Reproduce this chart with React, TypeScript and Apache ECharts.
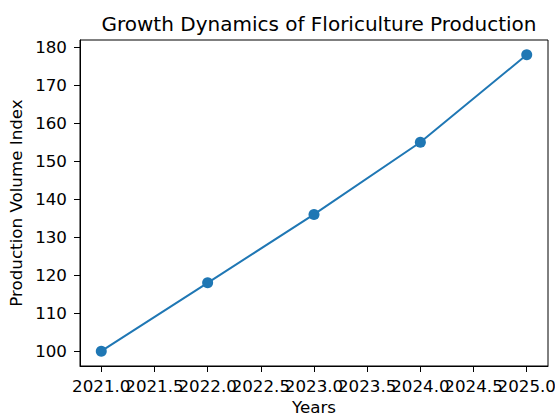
import React, { useEffect, useRef } from "react";
import * as echarts from "echarts";

const years = [2021, 2022, 2023, 2024, 2025];
const values = [100, 118, 136, 155, 178];
const xTicksWhole = [2021.0, 2022.0, 2023.0, 2024.0, 2025.0];
const xTicksHalf = [2021.5, 2022.5, 2023.5, 2024.5];
const yTicks = [100, 110, 120, 130, 140, 150, 160, 170, 180];

export default function App() {
  const ref = useRef<HTMLDivElement>(null);
  useEffect(() => {
    const chart = echarts.init(ref.current!, null, { renderer: "svg" });
    const font = "DejaVu Sans";
    const xLabel = (vals: number[]) => ({
      fontFamily: font, fontSize: 16.7, color: "#000", margin: 11,
      customValues: vals,
      hideOverlap: false,
      showMinLabel: true,
      showMaxLabel: true,
      formatter: (v: number) => v.toFixed(1),
    });
    chart.setOption({
      animation: false,
      backgroundColor: "#fff",
      title: {
        text: "Growth Dynamics of Floriculture Production",
        left: 314,
        top: 9,
        textAlign: "center",
        textStyle: { fontFamily: font, fontSize: 20, fontWeight: "normal", color: "#000" },
      },
      grid: {
        left: 80, right: 7, top: 40, bottom: 50,
        outerBoundsMode: "none",
        containLabel: false,
        show: true, borderColor: "#000", borderWidth: 1, backgroundColor: "transparent",
      },
      xAxis: [
        {
          type: "value",
          position: "bottom",
          offset: 0,
          min: 2020.8,
          max: 2025.2,
          name: "Years",
          nameLocation: "middle",
          nameGap: 34,
          nameTextStyle: { fontFamily: font, fontSize: 16.7, color: "#000", lineHeight: 14 },
          axisLine: { show: true, onZero: false, lineStyle: { color: "#000", width: 1 } },
          axisTick: { show: true, length: 6, lineStyle: { color: "#000" }, customValues: xTicksWhole },
          axisLabel: xLabel(xTicksWhole),
          splitLine: { show: false },
        },
        {
          type: "value",
          position: "bottom",
          offset: 0,
          min: 2020.8,
          max: 2025.2,
          axisLine: { show: false, onZero: false },
          axisTick: { show: true, length: 6, lineStyle: { color: "#000" }, customValues: xTicksHalf },
          axisLabel: xLabel(xTicksHalf),
          splitLine: { show: false },
        },
      ],
      yAxis: {
        type: "value",
        min: 96.1,
        max: 181.9,
        name: "Production Volume Index",
        nameLocation: "middle",
        nameGap: 53,
        nameTextStyle: { fontFamily: font, fontSize: 16.7, color: "#000" },
        axisLine: { show: true, lineStyle: { color: "#000", width: 1 } },
        axisTick: { show: true, length: 6, lineStyle: { color: "#000" }, customValues: yTicks },
        axisLabel: {
          fontFamily: font, fontSize: 16.7, color: "#000", margin: 13,
          customValues: yTicks,
          showMinLabel: true,
          showMaxLabel: true,
        },
        splitLine: { show: false },
      },
      series: [
        {
          type: "line",
          xAxisIndex: 0,
          data: years.map((y, i) => [y, values[i]]),
          symbol: "circle",
          symbolSize: 11,
          lineStyle: { color: "#1f77b4", width: 2 },
          itemStyle: { color: "#1f77b4" },
        },
      ],
    });
    return () => chart.dispose();
  }, []);
  return <div ref={ref} style={{ width: 555, height: 416, position: "absolute", left: 0, top: 0 }} />;
}
